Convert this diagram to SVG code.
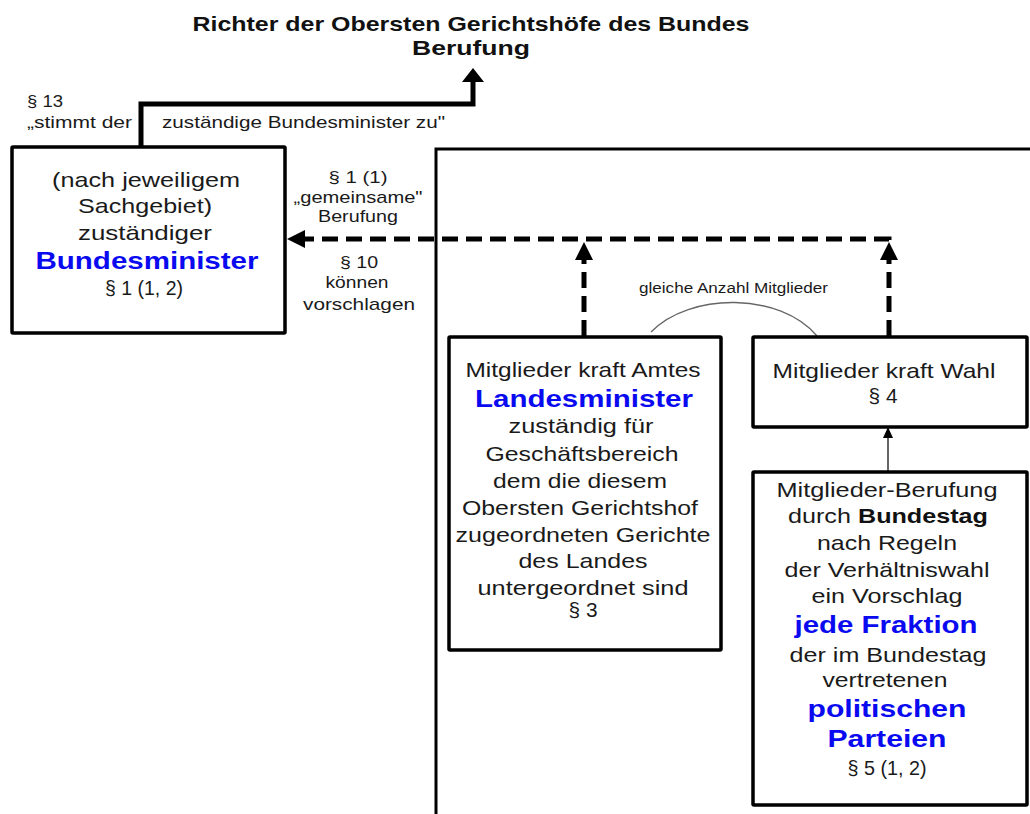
<svg xmlns="http://www.w3.org/2000/svg" width="1030" height="814" viewBox="0 0 1030 814">
<defs>
<style>
.t{font-family:"Liberation Sans",Arial,sans-serif;font-size:21px;fill:#1a1a1a;text-anchor:middle}
.s{font-family:"Liberation Sans",Arial,sans-serif;font-size:17px;fill:#1a1a1a;text-anchor:middle}
.l{font-family:"Liberation Sans",Arial,sans-serif;font-size:17px;fill:#1a1a1a}
.b{font-family:"Liberation Sans",Arial,sans-serif;font-size:24px;font-weight:bold;fill:#0a0af0;text-anchor:middle}
.h{font-family:"Liberation Sans",Arial,sans-serif;font-size:21px;font-weight:bold;fill:#111;text-anchor:middle}
.box{fill:#fff;stroke:#000;stroke-width:3.5}
.solid{fill:none;stroke:#000;stroke-width:5}
.dash{fill:none;stroke:#000;stroke-width:5;stroke-dasharray:16 8}
</style>
</defs>
<rect width="1030" height="814" fill="#fff"/>

<g id="title">
<text class="h" x="471" y="31" textLength="557" lengthAdjust="spacingAndGlyphs">Richter der Obersten Gerichtshöfe des Bundes</text>
<text class="h" x="471" y="55" textLength="118" lengthAdjust="spacingAndGlyphs">Berufung</text>
</g>

<g id="frame">
<path d="M436,814 V149 H1040" fill="none" stroke="#000" stroke-width="3"/>
</g>

<g id="connectors">
<path class="solid" d="M141,147 V104 H473 V80"/>
<polygon points="473,68 462,82 484,82" fill="#000"/>
<path class="dash" d="M889,336 V239 H304"/>
<polygon points="287,239 305,230 305,248" fill="#000"/>
<path class="dash" d="M584,336 V258"/>
<polygon points="584,242 575,260 593,260" fill="#000"/>
<polygon points="889,242 880,260 898,260" fill="#000"/>
<path d="M888,472 V437" stroke="#333" stroke-width="1.5" fill="none"/>
<polygon points="888,427 883,438 893,438" fill="#000"/>
<path d="M651,332 C690,292 780,292 817,336" fill="none" stroke="#666" stroke-width="1.3"/>
<text class="l" x="639" y="293" style="font-size:14px" textLength="189" lengthAdjust="spacingAndGlyphs">gleiche Anzahl Mitglieder</text>
<text class="l" x="27" y="107" textLength="36" lengthAdjust="spacingAndGlyphs">§ 13</text>
<text class="l" x="27" y="128" textLength="105" lengthAdjust="spacingAndGlyphs">„stimmt der</text>
<text class="l" x="162" y="128" textLength="283" lengthAdjust="spacingAndGlyphs">zuständige Bundesminister zu"</text>
<text class="s" x="358" y="183" textLength="59" lengthAdjust="spacingAndGlyphs">§ 1 (1)</text>
<text class="s" x="358" y="203" textLength="129" lengthAdjust="spacingAndGlyphs">„gemeinsame"</text>
<text class="s" x="358" y="222" textLength="80" lengthAdjust="spacingAndGlyphs">Berufung</text>
<text class="s" x="359" y="268" textLength="38" lengthAdjust="spacingAndGlyphs">§ 10</text>
<text class="s" x="357" y="288" textLength="63" lengthAdjust="spacingAndGlyphs">können</text>
<text class="s" x="359" y="310" textLength="112" lengthAdjust="spacingAndGlyphs">vorschlagen</text>
</g>

<g id="bundesminister">
<rect class="box" x="12" y="147" width="273" height="186" rx="1"/>
<text class="t" x="146" y="187" textLength="188" lengthAdjust="spacingAndGlyphs">(nach jeweiligem</text>
<text class="t" x="145" y="213" textLength="134" lengthAdjust="spacingAndGlyphs">Sachgebiet)</text>
<text class="t" x="145" y="240" textLength="134" lengthAdjust="spacingAndGlyphs">zuständiger</text>
<text class="b" x="147" y="269" textLength="223" lengthAdjust="spacingAndGlyphs">Bundesminister</text>
<text class="t" x="144" y="295" textLength="78" lengthAdjust="spacingAndGlyphs">§ 1 (1, 2)</text>
</g>

<g id="landesminister">
<rect class="box" x="449" y="337" width="272" height="313" rx="1"/>
<text class="t" x="583" y="377" textLength="235" lengthAdjust="spacingAndGlyphs">Mitglieder kraft Amtes</text>
<text class="b" x="584" y="407" textLength="218" lengthAdjust="spacingAndGlyphs">Landesminister</text>
<text class="t" x="581" y="433" textLength="145" lengthAdjust="spacingAndGlyphs">zuständig für</text>
<text class="t" x="582" y="461" textLength="193" lengthAdjust="spacingAndGlyphs">Geschäftsbereich</text>
<text class="t" x="580" y="488" textLength="174" lengthAdjust="spacingAndGlyphs">dem die diesem</text>
<text class="t" x="580" y="515" textLength="236" lengthAdjust="spacingAndGlyphs">Obersten Gerichtshof</text>
<text class="t" x="583" y="542" textLength="255" lengthAdjust="spacingAndGlyphs">zugeordneten Gerichte</text>
<text class="t" x="583" y="568" textLength="129" lengthAdjust="spacingAndGlyphs">des Landes</text>
<text class="t" x="583" y="595" textLength="211" lengthAdjust="spacingAndGlyphs">untergeordnet sind</text>
<text class="t" x="583" y="617" textLength="29" lengthAdjust="spacingAndGlyphs">§ 3</text>
</g>

<g id="wahl">
<rect class="box" x="753" y="337" width="274" height="90" rx="1"/>
<text class="t" x="884" y="378" textLength="223" lengthAdjust="spacingAndGlyphs">Mitglieder kraft Wahl</text>
<text class="t" x="883" y="403" textLength="29" lengthAdjust="spacingAndGlyphs">§ 4</text>
</g>

<g id="bundestag">
<rect class="box" x="753" y="472" width="274" height="333" rx="1"/>
<text class="t" x="887" y="497" textLength="221" lengthAdjust="spacingAndGlyphs">Mitglieder-Berufung</text>
<text class="t" x="888" y="523" textLength="200" lengthAdjust="spacingAndGlyphs">durch <tspan font-weight="bold" fill="#111">Bundestag</tspan></text>
<text class="t" x="887" y="550" textLength="140" lengthAdjust="spacingAndGlyphs">nach Regeln</text>
<text class="t" x="887" y="577" textLength="205" lengthAdjust="spacingAndGlyphs">der Verhältniswahl</text>
<text class="t" x="887" y="603" textLength="151" lengthAdjust="spacingAndGlyphs">ein Vorschlag</text>
<text class="b" x="886" y="633" textLength="183" lengthAdjust="spacingAndGlyphs">jede Fraktion</text>
<text class="t" x="888" y="662" textLength="197" lengthAdjust="spacingAndGlyphs">der im Bundestag</text>
<text class="t" x="885" y="687" textLength="125" lengthAdjust="spacingAndGlyphs">vertretenen</text>
<text class="b" x="887" y="717" textLength="159" lengthAdjust="spacingAndGlyphs">politischen</text>
<text class="b" x="887" y="747" textLength="119" lengthAdjust="spacingAndGlyphs">Parteien</text>
<text class="t" x="887" y="775" textLength="79" lengthAdjust="spacingAndGlyphs">§ 5 (1, 2)</text>
</g>
</svg>
